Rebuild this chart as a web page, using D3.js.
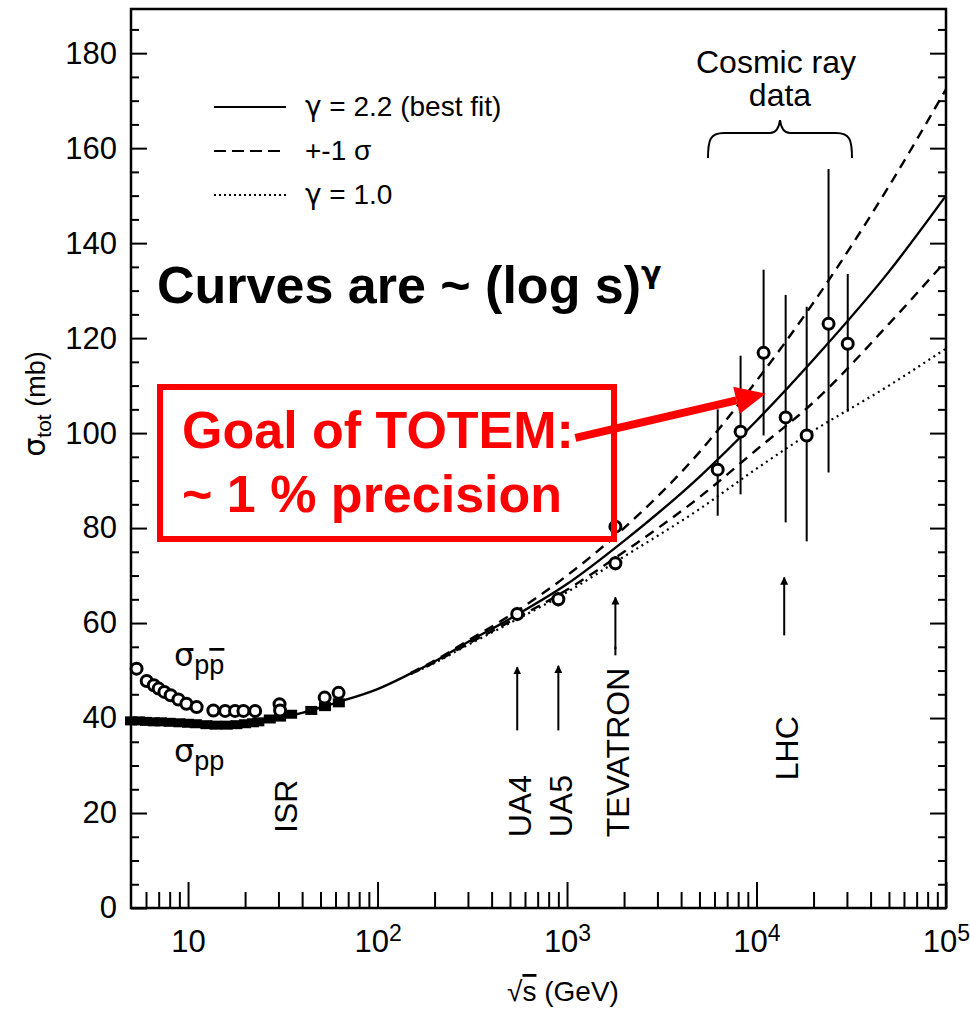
<!DOCTYPE html>
<html>
<head>
<meta charset="utf-8">
<script src="https://cdn.jsdelivr.net/npm/d3@7"></script>
<style>
  body { margin: 0; background: #fff; }
  svg { display: block; }
  text { font-family: "Liberation Sans", Arial, Helvetica, sans-serif; }
  .greek { font-family: "DejaVu Sans", "Liberation Sans", sans-serif; }
</style>
</head>
<body>
<div id="chart"></div>
<script>
// sigma(p pbar) low energy + ISR (open circles)
const ppbarS = [5.35, 6.05, 6.6, 7.0, 7.5, 8.1, 8.9, 9.8, 11.1, 13.6, 15.7, 17.7, 19.6, 22.6, 30.4, 30.6, 52.6, 62.3];
const ppbarV = [50.4, 47.8, 46.9, 46.2, 45.5, 44.8, 43.9, 43.0, 42.3, 41.6, 41.5, 41.5, 41.5, 41.5, 42.9, 41.6, 44.3, 45.3];

// collider p pbar points (UA4, UA5, CDF, E811)
const colS = [546, 900, 1800, 1800];
const colV = [61.9, 65.0, 80.3, 72.6];
const colErr = [1.5, 1.5, 2.3, 1.5];

// sigma(pp) (filled squares)
const ppS = [5, 5.5, 6, 6.6, 7.2, 8, 9, 10, 11, 12.5, 14, 16, 18, 20, 22, 23.5, 27, 30.6, 35, 44.7, 52.8, 62.5];
const ppV = [39.4, 39.4, 39.3, 39.2, 39.2, 39.1, 39.0, 38.9, 38.8, 38.6, 38.5, 38.5, 38.6, 38.8, 39.0, 39.2, 39.8, 40.2, 40.8, 41.6, 42.4, 43.2];

// cosmic ray points with asymmetric error bars
const crS  = [6240, 8240, 10900, 14250, 18400, 24000, 30300];
const crV  = [92.3, 100.3, 116.9, 103.3, 99.5, 123.0, 118.8];
const crLo = [82.6, 87.1, 99.5, 81.2, 77.2, 91.7, 104.5];
const crHi = [105.0, 116.3, 134.4, 129.1, 126.6, 155.6, 133.5];

// fit curves
const fitS  = [20, 30, 40, 60, 100, 150, 200, 300, 500, 1000, 2000, 5000, 10000, 20000, 50000, 100000];
const bestV = [39.0, 40.0, 41.1, 43.2, 46.1, 49.4, 51.9, 56.0, 60.9, 68.2, 77.3, 90.8, 102.6, 115.5, 134.0, 150.0];
const bandS = [150, 200, 300, 500, 1000, 2000, 5000, 10000, 20000, 50000, 100000];
const upV   = [49.5, 52.1, 56.3, 61.6, 70.0, 80.0, 96.0, 111.0, 127.5, 152.0, 172.4];
const loV   = [49.3, 51.7, 55.6, 60.3, 67.0, 75.0, 86.5, 96.5, 106.5, 123.0, 136.3];
const g1V   = [49.3, 51.6, 55.4, 60.0, 66.5, 74.0, 84.0, 92.5, 100.5, 110.0, 117.8];

// axis ticks
const yMajor = [0, 20, 40, 60, 80, 100, 120, 140, 160, 180];
const yMinor = [5, 10, 15, 25, 30, 35, 45, 50, 55, 65, 70, 75, 85, 90, 95, 105, 110, 115, 125, 130, 135, 145, 150, 155, 165, 170, 175, 185];
const xMajor = [10, 100, 1000, 10000, 100000];
const xMinor = [6, 7, 8, 9, 20, 30, 40, 50, 60, 70, 80, 90, 200, 300, 400, 500, 600, 700, 800, 900,
                2000, 3000, 4000, 5000, 6000, 7000, 8000, 9000, 20000, 30000, 40000, 50000, 60000, 70000, 80000, 90000];

// experiment markers: name, energy, arrow from/to (mb), label bottom (mb)
const expNames  = ["ISR", "UA4", "UA5", "TEVATRON", "LHC"];
const expS      = [33, 546, 900, 1800, 14000];
const expArrowA = [null, 37.4, 37.4, 54.5, 57.4];
const expArrowB = [null, 50.7, 51.0, 65.4, 69.6];
const expLabelV = [15.8, 14.9, 14.9, 14.9, 26.9];

const svg = d3.select("#chart").append("svg")
    .attr("width", 970)
    .attr("height", 1012);

const x = d3.scaleLog().domain([5, 1e5]).range([131, 946]);
const y = d3.scaleLinear().domain([0, 189.3]).range([908, 9]);

// arrow marker for experiment arrows
svg.append("defs").append("marker")
    .attr("id", "tip")
    .attr("viewBox", "0 0 10 10")
    .attr("refX", 9).attr("refY", 5)
    .attr("markerWidth", 4).attr("markerHeight", 5)
    .attr("markerUnits", "strokeWidth")
    .attr("orient", "auto")
    .append("path").attr("d", "M0,0 L10,5 L0,10 z").attr("fill", "#000");

// axes
function styleAxis(g) {
    g.select(".domain").remove();
    g.selectAll("line").attr("stroke", "#000").attr("stroke-width", 2);
    g.selectAll("text").attr("fill", "#000").style("font-size", "31px");
}

svg.append("g").attr("transform", "translate(131,0)")
    .call(d3.axisLeft(y).tickValues(yMajor).tickSize(-16).tickPadding(14))
    .call(styleAxis);
svg.append("g").attr("transform", "translate(131,0)")
    .call(d3.axisLeft(y).tickValues(yMinor).tickSize(-8).tickFormat(""))
    .call(styleAxis);
svg.append("g").attr("transform", "translate(946,0)")
    .call(d3.axisRight(y).tickValues(yMajor).tickSize(-16).tickFormat(""))
    .call(styleAxis);
svg.append("g").attr("transform", "translate(946,0)")
    .call(d3.axisRight(y).tickValues(yMinor).tickSize(-8).tickFormat(""))
    .call(styleAxis);

const xAxis = svg.append("g").attr("transform", "translate(0,908)")
    .call(d3.axisBottom(x).tickValues(xMajor).tickSize(-26).tickPadding(22).tickFormat(() => ""))
    .call(styleAxis);
xAxis.selectAll(".tick text").each(function(d) {
    const t = d3.select(this);
    const e = Math.round(Math.log10(d));
    t.text("10");
    if (e > 1) {
        t.append("tspan").attr("dy", "-0.5em").style("font-size", "23px").text(e);
    }
});
svg.append("g").attr("transform", "translate(0,908)")
    .call(d3.axisBottom(x).tickValues(xMinor).tickSize(-16).tickFormat(""))
    .call(styleAxis);

// frame
svg.append("rect")
    .attr("x", 131).attr("y", 9)
    .attr("width", 815).attr("height", 899)
    .attr("fill", "none").attr("stroke", "#000").attr("stroke-width", 2.5);

// axis titles
const yTitle = svg.append("text")
    .attr("transform", "translate(45,404) rotate(-90)")
    .attr("text-anchor", "middle")
    .style("font-size", "27px");
yTitle.append("tspan").attr("class", "greek").style("font-size", "30px").text("σ");
yTitle.append("tspan").attr("dy", 6).style("font-size", "21px").text("tot");
yTitle.append("tspan").attr("dy", -6).text(" (mb)");

const xTitle = svg.append("text")
    .attr("x", 563).attr("y", 1001)
    .attr("text-anchor", "middle")
    .style("font-size", "28px");
xTitle.append("tspan").text("√");
xTitle.append("tspan").style("text-decoration", "overline").text("s");
xTitle.append("tspan").text(" (GeV)");

// fit curves
const line = d3.line().x(d => x(d[0])).y(d => y(d[1])).curve(d3.curveMonotoneX);
const plot = svg.append("g");

plot.append("path").datum(bandS.map((s, i) => [s, g1V[i]]))
    .attr("d", line).attr("fill", "none").attr("stroke", "#000")
    .attr("stroke-width", 2.2).attr("stroke-dasharray", "2,4");
plot.append("path").datum(bandS.map((s, i) => [s, upV[i]]))
    .attr("d", line).attr("fill", "none").attr("stroke", "#000")
    .attr("stroke-width", 2.4).attr("stroke-dasharray", "10,7");
plot.append("path").datum(bandS.map((s, i) => [s, loV[i]]))
    .attr("d", line).attr("fill", "none").attr("stroke", "#000")
    .attr("stroke-width", 2.4).attr("stroke-dasharray", "10,7");
plot.append("path").datum(fitS.map((s, i) => [s, bestV[i]]))
    .attr("d", line).attr("fill", "none").attr("stroke", "#000")
    .attr("stroke-width", 2.4);

// pp squares
plot.selectAll(".sq").data(ppS.map((s, i) => [s, ppV[i]]))
    .enter().append("rect")
    .attr("x", d => x(d[0]) - 6).attr("y", d => y(d[1]) - 4.5)
    .attr("width", 12).attr("height", 9)
    .attr("fill", "#000");

// cosmic ray error bars
plot.selectAll(".cr-bar").data(crS.map((s, i) => [s, crLo[i], crHi[i]]))
    .enter().append("line")
    .attr("x1", d => x(d[0])).attr("x2", d => x(d[0]))
    .attr("y1", d => y(d[1])).attr("y2", d => y(d[2]))
    .attr("stroke", "#000").attr("stroke-width", 2);

// collider error bars
plot.selectAll(".col-bar").data(colS.map((s, i) => [s, colV[i] - colErr[i], colV[i] + colErr[i]]))
    .enter().append("line")
    .attr("x1", d => x(d[0])).attr("x2", d => x(d[0]))
    .attr("y1", d => y(d[1])).attr("y2", d => y(d[2]))
    .attr("stroke", "#000").attr("stroke-width", 2);

// open circles
const circles = ppbarS.map((s, i) => [s, ppbarV[i]])
    .concat(colS.map((s, i) => [s, colV[i]]))
    .concat(crS.map((s, i) => [s, crV[i]]));
plot.selectAll(".pt").data(circles)
    .enter().append("circle")
    .attr("cx", d => x(d[0])).attr("cy", d => y(d[1]))
    .attr("r", 5.5)
    .attr("fill", "#fff").attr("stroke", "#000").attr("stroke-width", 3);

// sigma labels
const sPbar = svg.append("text").attr("x", 174).attr("y", 666).style("font-size", "27px");
sPbar.append("tspan").attr("class", "greek").style("font-size", "32px").text("σ");
sPbar.append("tspan").attr("dy", 8).text("p");
sPbar.append("tspan").style("text-decoration", "overline").text("p");
const sPP = svg.append("text").attr("x", 174).attr("y", 762).style("font-size", "27px");
sPP.append("tspan").attr("class", "greek").style("font-size", "32px").text("σ");
sPP.append("tspan").attr("dy", 8).text("pp");

// experiment arrows and labels
expNames.forEach((name, i) => {
    const px = x(expS[i]);
    if (expArrowA[i] !== null) {
        svg.append("line")
            .attr("x1", px).attr("x2", px)
            .attr("y1", y(expArrowA[i])).attr("y2", y(expArrowB[i]))
            .attr("stroke", "#000").attr("stroke-width", 2)
            .attr("marker-end", "url(#tip)");
    }
    const lx = name === "ISR" ? px + 11 : px + 14;
    svg.append("text")
        .attr("transform", `translate(${lx},${y(expLabelV[i])}) rotate(-90)`)
        .style("font-size", "32px")
        .text(name);
});
// dash after TEVATRON leading to its arrow
svg.append("line")
    .attr("x1", x(1800)).attr("x2", x(1800))
    .attr("y1", y(53.2)).attr("y2", y(55))
    .attr("stroke", "#000").attr("stroke-width", 2);

// cosmic ray bracket
svg.append("path")
    .attr("d", "M708,158 C708,140 710,133 724,133 L770,133 C776,133 779,128 780,120 C781,128 784,133 790,133 L836,133 C850,133 852,140 852,158")
    .attr("fill", "none").attr("stroke", "#000").attr("stroke-width", 2);
svg.append("text").attr("x", 776).attr("y", 73).attr("text-anchor", "middle")
    .style("font-size", "32px").text("Cosmic ray");
svg.append("text").attr("x", 780).attr("y", 106).attr("text-anchor", "middle")
    .style("font-size", "32px").text("data");

// legend
const legendGreek = ["γ", "", "γ"];
const legendLabels = [" = 2.2 (best fit)", "+-1 σ", " = 1.0"];
const legendDash = [null, "12,6", "2,3"];
legendLabels.forEach((lab, i) => {
    const ly = 107 + i * 44;
    svg.append("line")
        .attr("x1", 214).attr("x2", 286).attr("y1", ly).attr("y2", ly)
        .attr("stroke", "#000").attr("stroke-width", 2)
        .attr("stroke-dasharray", legendDash[i]);
    const t = svg.append("text").attr("x", 305).attr("y", ly + 9)
        .style("font-size", "28px");
    if (legendGreek[i]) t.append("tspan").attr("class", "greek").text(legendGreek[i]);
    t.append("tspan").text(lab);
});

// big annotation
const curves = svg.append("text").attr("x", 157).attr("y", 303)
    .style("font-size", "52px").style("font-weight", "bold");
curves.append("tspan").text("Curves are ~ (log s)");
curves.append("tspan").attr("class", "greek").attr("dy", -20).style("font-size", "30px").text("γ");

// TOTEM box
svg.append("rect")
    .attr("x", 160).attr("y", 387).attr("width", 454).attr("height", 152)
    .attr("fill", "none").attr("stroke", "#ff0000").attr("stroke-width", 6);
svg.append("text").attr("x", 182).attr("y", 448)
    .attr("fill", "#ff0000").style("font-size", "52px").style("font-weight", "bold")
    .text("Goal of TOTEM:");
svg.append("text").attr("x", 182).attr("y", 512)
    .attr("fill", "#ff0000").style("font-size", "52px").style("font-weight", "bold")
    .text("~ 1 % precision");

// red arrow pointing at LHC-era energies
const aStart = [x(1107), y(99.0)];
const aEnd = [x(11170), y(108.3)];
const ang = Math.atan2(aEnd[1] - aStart[1], aEnd[0] - aStart[0]);
const headLen = 30, headW = 14;
const base = [aEnd[0] - headLen * Math.cos(ang), aEnd[1] - headLen * Math.sin(ang)];
svg.append("line")
    .attr("x1", aStart[0]).attr("y1", aStart[1])
    .attr("x2", base[0]).attr("y2", base[1])
    .attr("stroke", "#ff0000").attr("stroke-width", 8);
svg.append("path")
    .attr("d", `M${aEnd[0]},${aEnd[1]} L${base[0] + headW * Math.sin(ang)},${base[1] - headW * Math.cos(ang)} L${base[0] - headW * Math.sin(ang)},${base[1] + headW * Math.cos(ang)} Z`)
    .attr("fill", "#ff0000");
</script>
</body>
</html>
